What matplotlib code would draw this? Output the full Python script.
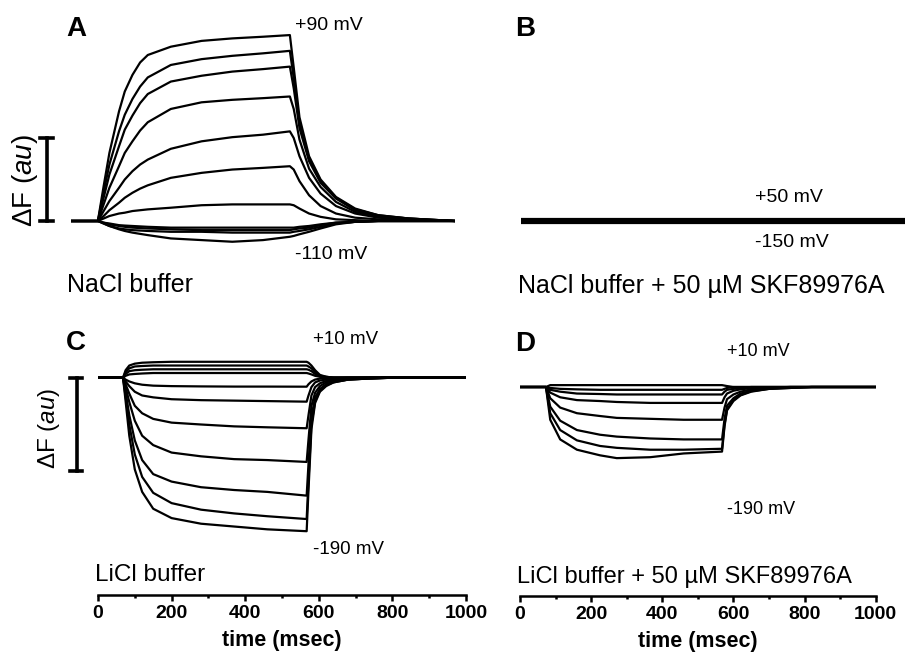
import matplotlib.pyplot as plt

plt.rcParams['font.family'] = ['Liberation Sans', 'DejaVu Sans']
plt.rcParams['mathtext.fontset'] = 'custom'
plt.rcParams['mathtext.rm'] = 'Liberation Sans'
plt.rcParams['mathtext.it'] = 'Liberation Sans:italic'

W, H = 905, 657

# ---- panel A: NaCl buffer (time in ms, dF in scale-bar units) ----
tA = [0, 70, 85, 100, 125, 140, 160, 180, 200, 260, 340, 420, 500, 570,
      580, 595, 620, 650, 690, 740, 800, 880, 1000]
traces_A = [
    [0, 0, 0.42, 0.82, 1.32, 1.56, 1.76, 1.91, 2.00, 2.10, 2.17, 2.20, 2.22, 2.24,
     1.85, 1.25, 0.78, 0.50, 0.29, 0.15, 0.07, 0.03, 0],
    [0, 0, 0.35, 0.68, 1.08, 1.28, 1.47, 1.62, 1.73, 1.88, 1.95, 1.99, 2.02, 2.05,
     1.72, 1.18, 0.75, 0.48, 0.28, 0.14, 0.07, 0.03, 0],
    [0, 0, 0.28, 0.56, 0.90, 1.10, 1.27, 1.42, 1.53, 1.68, 1.75, 1.80, 1.83, 1.86,
     1.60, 1.12, 0.72, 0.46, 0.27, 0.13, 0.06, 0.03, 0],
    [0, 0, 0.20, 0.40, 0.66, 0.82, 0.96, 1.09, 1.19, 1.35, 1.43, 1.46, 1.48, 1.50,
     1.35, 0.98, 0.63, 0.41, 0.23, 0.11, 0.05, 0.02, 0],
    [0, 0, 0.12, 0.24, 0.40, 0.50, 0.60, 0.68, 0.74, 0.87, 0.96, 1.01, 1.04, 1.08,
     1.00, 0.78, 0.52, 0.33, 0.18, 0.09, 0.04, 0.02, 0],
    [0, 0, 0.06, 0.13, 0.22, 0.28, 0.34, 0.39, 0.43, 0.52, 0.58, 0.62, 0.64, 0.66,
     0.62, 0.48, 0.31, 0.18, 0.09, 0.04, 0.02, 0.01, 0],
    [0, 0, 0.03, 0.06, 0.09, 0.10, 0.12, 0.13, 0.14, 0.16, 0.19, 0.20, 0.20, 0.20,
     0.19, 0.15, 0.09, 0.05, 0.02, 0.01, 0, 0, 0],
    [0, 0, -0.02, -0.03, -0.05, -0.055, -0.06, -0.065, -0.07, -0.08, -0.08, -0.08, -0.08, -0.08,
     -0.08, -0.07, -0.06, -0.04, -0.02, -0.01, 0, 0, 0],
    [0, 0, -0.02, -0.04, -0.06, -0.07, -0.08, -0.085, -0.09, -0.10, -0.11, -0.11, -0.11, -0.11,
     -0.10, -0.09, -0.08, -0.05, -0.02, -0.01, 0, 0, 0],
    [0, 0, -0.03, -0.06, -0.09, -0.10, -0.11, -0.115, -0.12, -0.13, -0.13, -0.14, -0.14, -0.14,
     -0.13, -0.12, -0.10, -0.07, -0.03, -0.01, 0, 0, 0],
    [0, 0, -0.03, -0.06, -0.10, -0.12, -0.14, -0.155, -0.17, -0.21, -0.23, -0.25, -0.23, -0.19,
     -0.18, -0.16, -0.13, -0.09, -0.04, -0.01, 0, 0, 0],
]

# ---- panel B: NaCl buffer + SKF89976A (flat) ----
tB = [0, 70, 570, 1000]
traces_B = [
    [0.02, 0.02, 0.02, 0.02],
    [0.007, 0.007, 0.007, 0.007],
    [-0.007, -0.007, -0.007, -0.007],
    [-0.02, -0.02, -0.02, -0.02],
]

# ---- panel C: LiCl buffer ----
tC = [0, 68, 75, 85, 100, 120, 150, 200, 280, 370, 460, 567,
      572, 580, 590, 603, 620, 640, 680, 730, 800, 1000]
traces_C = [
    [0, 0, 0.08, 0.13, 0.15, 0.16, 0.165, 0.17, 0.17, 0.17, 0.17, 0.17,
     0.16, 0.13, 0.08, 0.03, 0.01, 0, 0, 0, 0, 0],
    [0, 0, 0.06, 0.10, 0.12, 0.125, 0.13, 0.13, 0.13, 0.13, 0.13, 0.13,
     0.12, 0.10, 0.06, 0.02, 0.01, 0, 0, 0, 0, 0],
    [0, 0, 0.04, 0.07, 0.08, 0.085, 0.09, 0.09, 0.09, 0.09, 0.09, 0.09,
     0.085, 0.07, 0.04, 0.015, 0, 0, 0, 0, 0, 0],
    [0, 0, 0.02, 0.035, 0.04, 0.045, 0.05, 0.05, 0.05, 0.05, 0.05, 0.05,
     0.045, 0.035, 0.02, 0.01, 0, 0, 0, 0, 0, 0],
    [0, 0, -0.02, -0.04, -0.06, -0.075, -0.085, -0.09, -0.093, -0.095, -0.095, -0.096,
     -0.07, -0.04, -0.02, -0.01, 0, 0, 0, 0, 0, 0],
    [0, 0, -0.04, -0.09, -0.15, -0.19, -0.21, -0.23, -0.24, -0.245, -0.25, -0.256,
     -0.19, -0.10, -0.05, -0.03, -0.02, -0.01, 0, 0, 0, 0],
    [0, 0, -0.07, -0.17, -0.30, -0.38, -0.44, -0.48, -0.50, -0.52, -0.53, -0.54,
     -0.40, -0.19, -0.10, -0.06, -0.035, -0.02, -0.01, 0, 0, 0],
    [0, 0, -0.10, -0.26, -0.46, -0.62, -0.72, -0.80, -0.84, -0.87, -0.88, -0.90,
     -0.66, -0.30, -0.16, -0.09, -0.05, -0.03, -0.015, -0.005, 0, 0],
    [0, 0, -0.15, -0.40, -0.67, -0.88, -1.03, -1.11, -1.17, -1.20, -1.22, -1.26,
     -0.92, -0.42, -0.21, -0.12, -0.07, -0.04, -0.02, -0.01, 0, 0],
    [0, 0, -0.20, -0.50, -0.82, -1.06, -1.23, -1.34, -1.41, -1.45, -1.48, -1.51,
     -1.10, -0.50, -0.25, -0.14, -0.08, -0.05, -0.02, -0.01, 0, 0],
    [0, 0, -0.25, -0.62, -0.98, -1.22, -1.40, -1.50, -1.56, -1.59, -1.62, -1.64,
     -1.20, -0.55, -0.27, -0.15, -0.09, -0.05, -0.02, -0.01, 0, 0],
]

# ---- panel D: LiCl buffer + SKF89976A ----
tD = [0, 73, 85, 113, 160, 225, 272, 366, 460, 568,
      575, 582, 600, 620, 650, 700, 760, 820, 1000]
traces_D = [
    [0, 0, 0.02, 0.02, 0.02, 0.02, 0.02, 0.02, 0.02, 0.02,
     0.015, 0.01, 0, 0, 0, 0, 0, 0, 0],
    [0, 0, -0.01, -0.02, -0.025, -0.03, -0.03, -0.03, -0.03, -0.03,
     -0.02, -0.01, 0, 0, 0, 0, 0, 0, 0],
    [0, 0, -0.03, -0.05, -0.07, -0.075, -0.08, -0.08, -0.08, -0.08,
     -0.05, -0.03, -0.02, -0.01, 0, 0, 0, 0, 0],
    [0, 0, -0.06, -0.11, -0.14, -0.15, -0.16, -0.17, -0.17, -0.17,
     -0.11, -0.07, -0.04, -0.025, -0.012, -0.005, 0, 0, 0],
    [0, 0, -0.12, -0.22, -0.28, -0.31, -0.33, -0.34, -0.35, -0.35,
     -0.22, -0.13, -0.08, -0.05, -0.025, -0.01, 0, 0, 0],
    [0, 0, -0.21, -0.36, -0.46, -0.51, -0.53, -0.55, -0.56, -0.56,
     -0.34, -0.20, -0.12, -0.07, -0.04, -0.015, -0.005, 0, 0],
    [0, 0, -0.28, -0.46, -0.57, -0.63, -0.65, -0.67, -0.67, -0.66,
     -0.40, -0.24, -0.14, -0.085, -0.045, -0.02, -0.01, 0, 0],
    [0, 0, -0.35, -0.56, -0.67, -0.73, -0.76, -0.75, -0.71, -0.69,
     -0.42, -0.25, -0.15, -0.09, -0.05, -0.02, -0.01, 0, 0],
]

fig = plt.figure(figsize=(9.05, 6.57), dpi=100)


def panel(x0, x1, base, ppu, ylo, yhi):
    # place axes so that t=0..1000 spans x0..x1 px and dF=0 sits at base px
    top = base - yhi * ppu
    bot = base - ylo * ppu
    ax = fig.add_axes([x0 / W, 1 - bot / H, (x1 - x0) / W, (bot - top) / H])
    ax.set_xlim(0, 1000)
    ax.set_ylim(ylo, yhi)
    return ax


def label(x, y, s, **kw):
    kw.setdefault('va', 'center')
    fig.text(x / W, 1 - y / H, s, **kw)


def time_axis(ax):
    for s in ['top', 'left', 'right']:
        ax.spines[s].set_visible(False)
    ax.spines['bottom'].set_linewidth(1.8)
    ax.set_yticks([])
    ax.set_xticks(range(0, 1001, 200))
    ax.set_xticks(range(100, 1000, 200), minor=True)
    ax.set_xticklabels([str(v) for v in range(0, 1001, 200)], fontweight='bold')
    ax.tick_params(axis='x', which='major', length=4.5, width=1.8, labelsize=14, pad=2.5)
    ax.tick_params(axis='x', which='minor', length=2.5, width=1.8)
    ax.set_xlabel('time (msec)', fontsize=15.5, fontweight='bold', labelpad=6)
    ax.patch.set_visible(False)


lw = 1.6

axA = panel(71, 455, 221, 83, -0.6, 2.6)
axA.axis('off')
for y in traces_A:
    axA.plot(tA, y, color='black', lw=lw, solid_joinstyle='round')
axA.plot([-63, -63], [0, 1], color='black', lw=2.6, clip_on=False)
axA.plot([-81, -47], [1, 1], color='black', lw=2.6, clip_on=False)
axA.plot([-81, -47], [0, 0], color='black', lw=2.6, clip_on=False)

axB = panel(521, 905, 221, 83, -0.6, 2.6)
axB.axis('off')
for y in traces_B:
    axB.plot(tB, y, color='black', lw=lw)

axC = panel(98, 466, 377.7, 93.6, -(595 - 377.7) / 93.6, 0.6)
time_axis(axC)
for y in traces_C:
    axC.plot(tC, y, color='black', lw=lw, solid_joinstyle='round')
axC.plot([-58, -58], [0, -1], color='black', lw=2.6, clip_on=False)
axC.plot([-76, -43], [0, 0], color='black', lw=2.6, clip_on=False)
axC.plot([-76, -43], [-1, -1], color='black', lw=2.6, clip_on=False)

axD = panel(520, 875.7, 387, 93.6, -(596 - 387) / 93.6, 0.6)
time_axis(axD)
for y in traces_D:
    axD.plot(tD, y, color='black', lw=lw, solid_joinstyle='round')

# panel letters
label(66, 29, 'A', fontsize=20, fontweight='bold')
label(515, 29, 'B', fontsize=20, fontweight='bold')
label(66, 343, 'C', fontsize=20, fontweight='bold')
label(515, 344, 'D', fontsize=20, fontweight='bold')

# voltage annotations
label(295, 25, '+90 mV', fontsize=14)
label(295, 255, '-110 mV', fontsize=14)
label(755, 197, '+50 mV', fontsize=14)
label(755, 243, '-150 mV', fontsize=14)
label(313, 340, '+10 mV', fontsize=13.5)
label(313, 550, '-190 mV', fontsize=13.5)
label(727, 352, '+10 mV', fontsize=13)
label(727, 510, '-190 mV', fontsize=13)

# buffer captions
label(67, 285, 'NaCl buffer', fontsize=18)
label(518, 286, 'NaCl buffer + 50 µM SKF89976A', fontsize=18)
label(95, 575, 'LiCl buffer', fontsize=17.5)
label(517, 577, 'LiCl buffer + 50 µM SKF89976A', fontsize=17)

# y scale-bar labels
label(25, 181, r'ΔF ($\mathit{au}$)', fontsize=20, rotation=90, ha='center')
label(49, 428, r'ΔF ($\mathit{au}$)', fontsize=17.5, rotation=90, ha='center')

fig.savefig('out.png', dpi=100)
